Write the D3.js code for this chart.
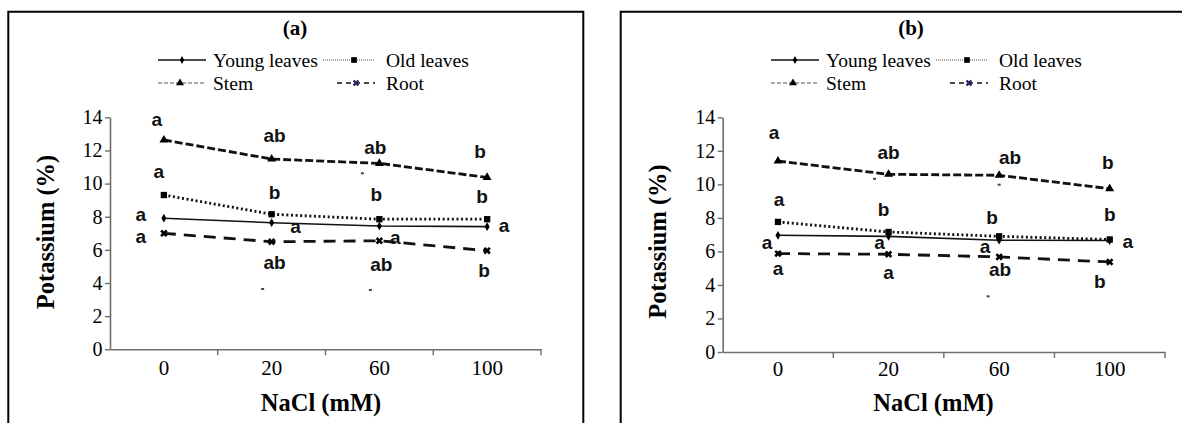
<!DOCTYPE html>
<html>
<head>
<meta charset="utf-8">
<script src="https://cdnjs.cloudflare.com/ajax/libs/d3/7.8.5/d3.min.js"></script>
<style>
  body { margin: 0; background: #fff; }
  svg { display: block; }
</style>
</head>
<body>
<svg id="chart" width="1182" height="423"></svg>
<script>
const categories = ['0', '20', '60', '100']
const seriesNames = ['Young leaves', 'Old leaves', 'Stem', 'Root']
const yTicks = [0, 2, 4, 6, 8, 10, 12, 14]

// panel (a) - potassium %
const youngA = [7.91, 7.64, 7.44, 7.40]
const oldA = [9.31, 8.15, 7.85, 7.85]
const stemA = [12.63, 11.48, 11.22, 10.37]
const rootA = [7.00, 6.49, 6.55, 5.95]

// panel (b)
const youngB = [6.96, 6.90, 6.67, 6.65]
const oldB = [7.76, 7.16, 6.90, 6.71]
const stemB = [11.39, 10.60, 10.54, 9.74]
const rootB = [5.87, 5.83, 5.67, 5.37]

// significance letters: [text, category, value where the letter sits, x offset]
const lettersA = [
  ['a', '0', 13.83, -7], ['ab', '20', 12.87, 3], ['ab', '60', 12.13, -4], ['b', '100', 11.93, -7],
  ['a', '0', 10.72, -5], ['b', '20', 9.41, 3], ['b', '60', 9.31, -3], ['b', '100', 9.21, -5],
  ['a', '0', 8.1, -23], ['a', '20', 7.38, 24], ['a', '60', 6.72, 16], ['a', '100', 7.44, 17],
  ['a', '0', 6.78, -23], ['ab', '20', 5.19, 3], ['ab', '60', 5.09, 2], ['b', '100', 4.74, -3]
]
const lettersB = [
  ['a', '0', 13.08, -4], ['ab', '20', 11.89, 0], ['ab', '60', 11.59, 11], ['b', '100', 11.29, -2],
  ['a', '0', 9.09, 1], ['b', '20', 8.49, -5], ['b', '60', 8.02, -7], ['b', '100', 8.2, 0],
  ['a', '0', 6.53, -11], ['a', '20', 6.53, -9], ['a', '60', 6.29, -14], ['a', '100', 6.59, 18],
  ['a', '0', 4.98, 0], ['a', '20', 4.74, 0], ['ab', '60', 4.92, 1], ['b', '100', 4.21, -10]
]
// small stray specks in the scan: [category, value, x offset]
const strayA = [['20', 3.64, -9], ['60', 3.58, -9], ['60', 10.62, -17]]
const strayB = [['20', 10.33, -14], ['60', 9.98, 0], ['60', 3.32, -11]]

let axisGrey = '#6e6e6e'
let serif = "'Liberation Serif', 'Times New Roman', Times, serif"
let sans = "'Liberation Sans', Arial, sans-serif"

let styles = {
  'Young leaves': { dash: null, width: 1.6, symbol: d3.symbolDiamond, size: 22, rot: 0, lDash: null, lWidth: 1.3 },
  'Old leaves': { dash: '2 2.6', width: 2.8, symbol: d3.symbolSquare, size: 40, rot: 0, lDash: '1 1', lWidth: 1 },
  'Stem': { dash: '8 3', width: 2.8, symbol: d3.symbolTriangle, size: 34, rot: 0, lDash: '4 2', lWidth: 1 },
  'Root': { dash: '12 8', width: 2.8, symbol: d3.symbolCross, size: 34, rot: 45, lDash: '5 4', lWidth: 1.3 }
}

let panels = [
  {
    title: '(a)', series: [youngA, oldA, stemA, rootA], letters: lettersA, stray: strayA,
    left: 8.3, right: 583.3, top: 11.7, x0: 110, x1: 541, yTop: 117.3, yBottom: 349.3,
    titleX: 295, legendX: 158, yTitleX: 45, yTitleY: 232, xTitleX: 321, xPad: 11
  },
  {
    title: '(b)', series: [youngB, oldB, stemB, rootB], letters: lettersB, stray: strayB,
    left: 620.7, right: 1200, top: 11.7, x0: 722.7, x1: 1165, yTop: 117.3, yBottom: 352,
    titleX: 911, legendX: 771, yTitleX: 657, yTitleY: 241.5, xTitleX: 933.5, xPad: 9
  }
]

let svg = d3.select('#chart')
panels.forEach((p) => drawPanel(svg, p))

function drawPanel (svg, p) {
  let g = svg.append('g')

  // frame (bottom edge is cut off in the original)
  g.append('path')
    .attr('d', `M${p.left},440V${p.top}H${p.right}V440`)
    .attr('fill', 'none')
    .attr('stroke', '#000')
    .attr('stroke-width', 2)

  g.append('text')
    .style('font-family', serif)
    .attr('x', p.titleX)
    .attr('y', 35)
    .attr('text-anchor', 'middle')
    .attr('font-size', 21)
    .attr('font-weight', 'bold')
    .text(p.title)

  // legend, 2 x 2
  let legendPos = [
    { lx1: 0, lx2: 48, mx: 24, tx: 55, y: 60 },
    { lx1: 165, lx2: 217, mx: 196, tx: 228, y: 60 },
    { lx1: 0, lx2: 48, mx: 22, tx: 55, y: 83 },
    { lx1: 179, lx2: 217, mx: 198, tx: 228, y: 83 }
  ]
  seriesNames.forEach((name, i) => {
    let s = styles[name]
    let pos = legendPos[i]
    let lg = g.append('g').attr('transform', `translate(${p.legendX},${pos.y})`)
    lg.append('line')
      .attr('x1', pos.lx1).attr('x2', pos.lx2)
      .attr('stroke', name === 'Young leaves' || name === 'Root' ? '#111' : '#555')
      .attr('stroke-width', s.lWidth)
      .attr('stroke-dasharray', s.lDash)
    lg.append('path')
      .attr('d', d3.symbol(s.symbol, s.size * 0.8)())
      .attr('transform', `translate(${pos.mx},0) rotate(${s.rot})`)
      .attr('fill', name === 'Root' ? '#2e2560' : '#000')
    lg.append('text')
      .style('font-family', serif)
      .attr('x', pos.tx)
      .attr('y', 6.5)
      .attr('font-size', 19.5)
      .text(name)
  })

  let x = d3.scaleBand().domain(categories).range([p.x0, p.x1])
  let y = d3.scaleLinear().domain([0, 14]).range([p.yBottom, p.yTop])
  let cx = (c) => x(c) + x.bandwidth() / 2

  // y axis
  let yAxis = g.append('g')
    .attr('transform', `translate(${p.x0},0)`)
    .call(d3.axisLeft(y).tickValues(yTicks).tickSize(5).tickSizeOuter(0).tickPadding(2.5))
  yAxis.select('.domain').attr('stroke', axisGrey).attr('stroke-width', 1.6)
  yAxis.selectAll('.tick line').attr('stroke', axisGrey).attr('stroke-width', 1.4)
  yAxis.selectAll('.tick text')
    .style('font-family', serif)
    .style('font-size', '20px')
    .attr('fill', '#000')

  // x axis: labels at band centres, tick marks on band edges
  let xAxis = g.append('g')
    .attr('transform', `translate(0,${p.yBottom})`)
    .call(d3.axisBottom(x).tickSize(0).tickPadding(p.xPad))
  xAxis.select('.domain').attr('stroke', axisGrey).attr('stroke-width', 1.6)
  xAxis.selectAll('.tick text')
    .style('font-family', serif)
    .style('font-size', '21px')
    .attr('fill', '#000')
  xAxis.selectAll('.edge')
    .data(categories)
    .join('line')
    .attr('class', 'edge')
    .attr('x1', (d) => x(d) + x.bandwidth())
    .attr('x2', (d) => x(d) + x.bandwidth())
    .attr('y1', 0)
    .attr('y2', 6)
    .attr('stroke', axisGrey)
    .attr('stroke-width', 1.4)

  // axis titles
  g.append('text')
    .style('font-family', serif)
    .attr('transform', `translate(${p.yTitleX},${p.yTitleY}) rotate(-90)`)
    .attr('text-anchor', 'middle')
    .attr('dy', '0.35em')
    .attr('font-size', 24.5)
    .attr('font-weight', 'bold')
    .text('Potassium (%)')

  g.append('text')
    .style('font-family', serif)
    .attr('x', p.xTitleX)
    .attr('y', 411)
    .attr('text-anchor', 'middle')
    .attr('font-size', 24.5)
    .attr('font-weight', 'bold')
    .text('NaCl (mM)')

  // series lines + markers
  let line = d3.line().x((d) => cx(d.c)).y((d) => y(d.v))
  seriesNames.forEach((name, i) => {
    let s = styles[name]
    let pts = categories.map((c, j) => ({ c: c, v: p.series[i][j] }))
    g.append('path')
      .datum(pts)
      .attr('d', line)
      .attr('fill', 'none')
      .attr('stroke', '#111')
      .attr('stroke-width', s.width)
      .attr('stroke-dasharray', s.dash)
    g.selectAll('.m' + i)
      .data(pts)
      .join('path')
      .attr('class', 'm' + i)
      .attr('d', d3.symbol(s.symbol, s.size)())
      .attr('transform', (d) => `translate(${cx(d.c)},${y(d.v)}) rotate(${s.rot})`)
      .attr('fill', '#000')
  })

  // significance letters
  g.selectAll('.letter')
    .data(p.letters)
    .join('text')
    .attr('class', 'letter')
    .style('font-family', sans)
    .attr('font-weight', 'bold')
    .attr('x', (d) => cx(d[1]) + d[3])
    .attr('y', (d) => y(d[2]))
    .attr('dy', '0.32em')
    .attr('text-anchor', 'middle')
    .attr('font-size', 19)
    .attr('fill', '#111')
    .text((d) => d[0])

  g.selectAll('.stray')
    .data(p.stray)
    .join('rect')
    .attr('class', 'stray')
    .attr('x', (d) => cx(d[0]) + d[2] - 1.5)
    .attr('y', (d) => y(d[1]) - 1)
    .attr('width', 3)
    .attr('height', 2)
    .attr('fill', '#444')
}
</script>
</body>
</html>
